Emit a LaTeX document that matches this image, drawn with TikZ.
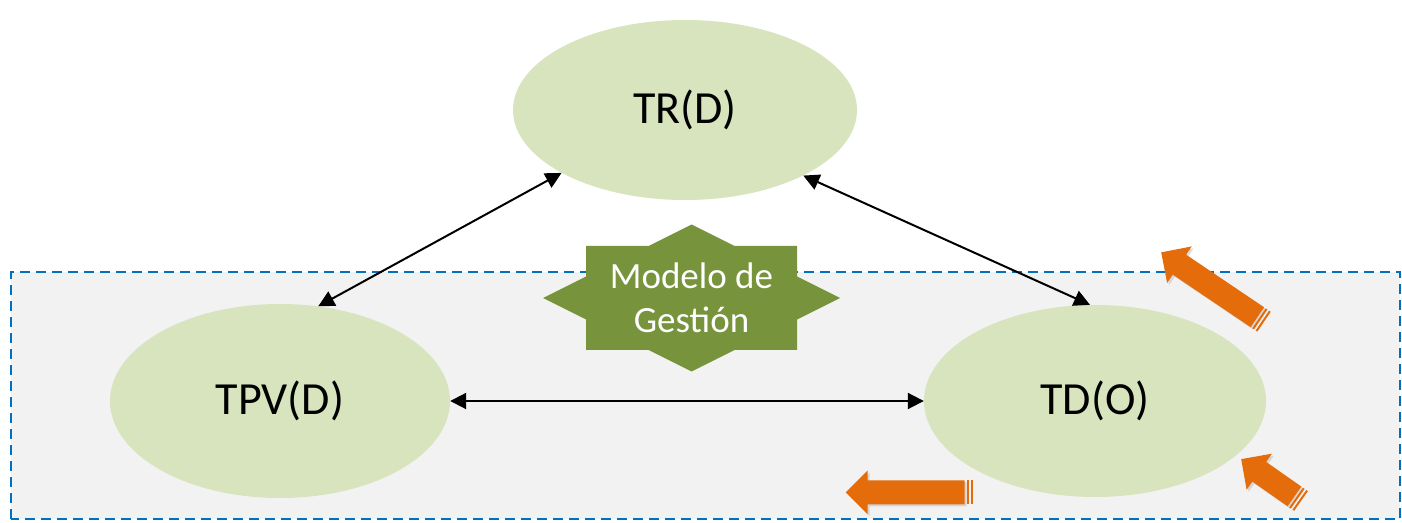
\documentclass[tikz,border=0pt]{standalone}
\usepackage{fontspec}
\setmainfont{Carlito}
\usetikzlibrary{shapes.geometric,arrows.meta,shadows}
\definecolor{ellgreen}{HTML}{D7E4BD}
\definecolor{stargreen}{HTML}{77933C}
\definecolor{arroworange}{HTML}{E46C0A}
\definecolor{boxgray}{HTML}{F2F2F2}
\definecolor{dashblue}{HTML}{0070C0}
\tikzset{
	elnode/.style={ellipse, fill=ellgreen, inner sep=0pt, font=\fontsize{46}{55}\selectfont},
	linkarrow/.style={line width=2pt, {Triangle[length=16pt,width=16pt]}-{Triangle[length=16pt,width=16pt]}},
	pics/stripearrow/.style={code={
		\fill[arroworange, drop shadow={shadow xshift=2pt, shadow yshift=-2pt, opacity=0.25}]
			(8,-12) -- (#1-22,-12) -- (#1-22,-22) -- (#1,0) -- (#1-22,22) -- (#1-22,12) -- (8,12) -- cycle;
		\fill[arroworange] (0,-12) rectangle (2,12);
		\fill[arroworange] (4,-12) rectangle (6,12);
	}}
}
\begin{document}
\begin{tikzpicture}[x=1pt, y=1pt]
	\useasboundingbox (0,0) rectangle (1402,522);
	\fill[boxgray] (11,3) rectangle (1400,250);
	\draw[dashblue, line width=2pt, dash pattern=on 10pt off 6pt] (11,3) rectangle (1400,250);

	\node [elnode, minimum width=344pt, minimum height=180pt] (tr) at (685,412) {TR(D)};
	\node [elnode, minimum width=340pt, minimum height=194pt] (tpv) at (280,121) {TPV(D)};
	\node [elnode, minimum width=342pt, minimum height=192pt] (td) at (1095,121) {TD(O)};

	\coordinate (mgc) at (691.5,224);
	\fill[stargreen, shift={(mgc)}] (0,73.5) -- (43,52) -- (105.5,52) -- (105.5,21.5) -- (148.5,0)
		-- (105.5,-21.5) -- (105.5,-52) -- (43,-52) -- (0,-73.5) -- (-43,-52) -- (-105.5,-52)
		-- (-105.5,-21.5) -- (-148.5,0) -- (-105.5,21.5) -- (-105.5,52) -- (-43,52) -- cycle;
	\node [text=white, align=center, inner sep=0pt, font=\fontsize{37}{44}\selectfont] (mg) at (mgc) {Modelo de\\Gestión};

	\draw[linkarrow] (tr.207) -- (tpv.68);
	\draw[linkarrow] (tr.-29) -- (td.93);
	\draw[linkarrow] (tpv.east) -- (td.west);

	\pic[rotate=146] at (1264,200.3) {stripearrow=124};
	\pic[rotate=180] at (972.7,29.7) {stripearrow=127};
	\pic[rotate=145] at (1301,21) {stripearrow=73};
\end{tikzpicture}
\end{document}
